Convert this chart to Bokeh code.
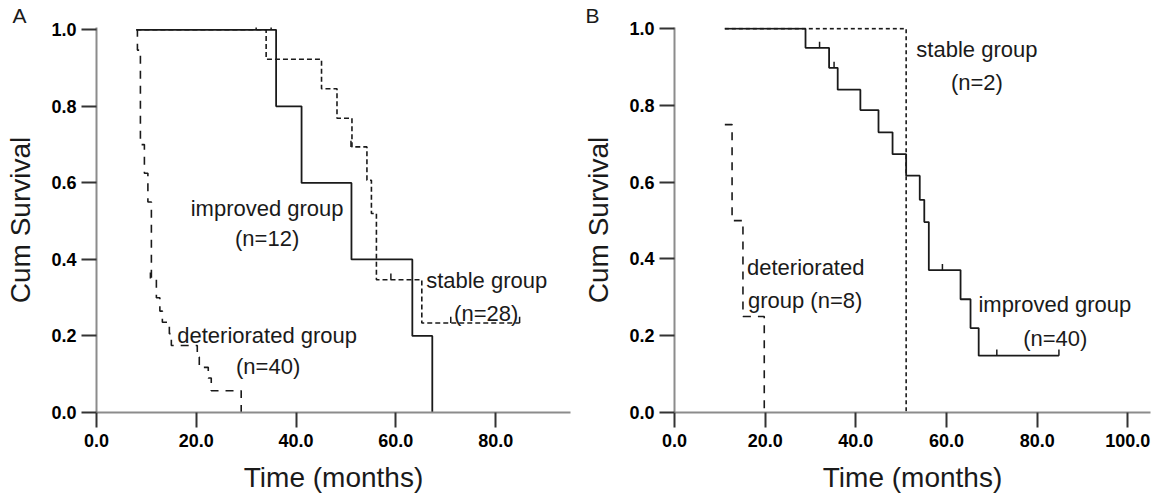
from bokeh.plotting import figure
from bokeh.layouts import row
from bokeh.models import FixedTicker, PrintfTickFormatter, Range1d
from bokeh.core.properties import value
from bokeh.embed import file_html
from bokeh.resources import INLINE

# ---------------- data (panel A) ----------------
a_improved_t = [8.0, 36.0, 41.1, 51.1, 63.3, 67.3]
a_improved_s = [1.0, 0.8, 0.6, 0.4, 0.2, 0.0]
a_improved_cens_t = [32.0, 35.0]
a_improved_cens_s = [1.0, 1.0]

a_stable_t = [8.0, 34.0, 45.1, 48.2, 51.2, 54.2, 55.1, 56.1, 65.2, 84.8]
a_stable_s = [1.0, 0.923, 0.846, 0.769, 0.694, 0.607, 0.52, 0.347, 0.234, 0.234]
a_stable_cens_t = [51.0, 59.0, 71.0, 84.8]
a_stable_cens_s = [0.694, 0.347, 0.234, 0.234]

a_det_t = [8.0, 8.2, 8.8, 9.6, 10.3, 11.0, 12.0, 12.7, 13.2, 14.6, 15.0, 20.2, 20.6, 22.4, 23.0, 29.0]
a_det_s = [1.0, 0.947, 0.70, 0.625, 0.55, 0.35, 0.30, 0.265, 0.236, 0.206, 0.175, 0.145, 0.118, 0.09, 0.057, 0.0]
a_det_cens_t = [10.8]
a_det_cens_s = [0.35]

# ---------------- data (panel B) ----------------
b_improved_t = [11.1, 28.9, 34.1, 36.0, 41.0, 45.0, 48.1, 51.1, 54.1, 55.1, 56.1, 63.1, 65.3, 67.1, 84.8]
b_improved_s = [1.0, 0.95, 0.898, 0.841, 0.788, 0.73, 0.673, 0.617, 0.554, 0.496, 0.371, 0.295, 0.22, 0.148, 0.148]
b_improved_cens_t = [32.0, 35.2, 59.1, 71.1, 84.8]
b_improved_cens_s = [0.95, 0.898, 0.371, 0.148, 0.148]

b_stable_t = [11.1, 51.1]
b_stable_s = [1.0, 0.0]

b_det_t = [11.1, 12.7, 15.1, 19.8]
b_det_s = [0.75, 0.5, 0.25, 0.0]

y_ticks = [0.0, 0.2, 0.4, 0.6, 0.8, 1.0]
a_x_ticks = [0, 20, 40, 60, 80]
b_x_ticks = [0, 20, 40, 60, 80, 100]

FONT = "Liberation Sans"
INK = "#1a1a1a"
AXIS = "#8c8c8c"


def make_panel(width, border_left, border_right, border_bottom, xmax, ymax, xticks,
               letter, letter_offset):
    p = figure(width=width, height=496, output_backend="svg", toolbar_location=None,
               x_range=Range1d(0, xmax), y_range=Range1d(0, ymax),
               min_border_left=border_left, min_border_right=border_right,
               min_border_top=0, min_border_bottom=border_bottom,
               title=letter)
    p.title.align = "left"
    p.title.offset = letter_offset
    p.title.standoff = 2
    p.title.text_font = FONT
    p.title.text_font_style = "normal"
    p.title.text_font_size = "21px"
    p.title.text_color = INK
    p.outline_line_color = None
    p.grid.visible = False
    p.background_fill_color = "white"
    p.border_fill_color = "white"
    for ax in (p.xaxis[0], p.yaxis[0]):
        ax.axis_line_color = AXIS
        ax.axis_line_width = 2
        ax.major_tick_line_color = "#333333"
        ax.major_tick_line_width = 2
        ax.major_tick_out = 15
        ax.major_tick_in = 0
        ax.minor_tick_line_color = None
        ax.major_label_text_font = FONT
        ax.major_label_text_font_style = "bold"
        ax.major_label_text_font_size = "18px"
        ax.major_label_text_color = "black"
        ax.axis_label_text_font = FONT
        ax.axis_label_text_font_style = "normal"
        ax.axis_label_text_font_size = "28px"
        ax.axis_label_text_color = INK
        ax.formatter = PrintfTickFormatter(format="%.1f")
    p.xaxis[0].ticker = FixedTicker(ticks=xticks)
    p.yaxis[0].ticker = FixedTicker(ticks=y_ticks)
    p.xaxis[0].axis_label = "Time (months)"
    p.yaxis[0].axis_label = "Cum Survival"
    p.xaxis[0].major_label_standoff = 6
    p.yaxis[0].major_label_standoff = 5
    p.xaxis[0].axis_label_standoff = 12
    p.yaxis[0].axis_label_standoff = 12
    return p


def censor(p, ts, ss):
    p.segment(x0=ts, y0=ss, x1=ts, y1=[s + 0.016 for s in ss], line_color=INK, line_width=1.5)


def label(p, x, y, txt, align="center", size="22px"):
    p.text(x=[x], y=[y], text=[txt], text_font=value(FONT), text_font_size=size,
           text_align=align, text_baseline="middle", text_color=INK)


# ---------------- panel A ----------------
pa = make_panel(580, 96, 10, 84, 95, 1.006, a_x_ticks, "A", -84)
pa.step(a_det_t, a_det_s, mode="after", line_color=INK, line_width=1.6, line_dash="8 7")
pa.step(a_stable_t, a_stable_s, mode="after", line_color=INK, line_width=1.6, line_dash="5 3")
pa.step(a_improved_t, a_improved_s, mode="after", line_color=INK, line_width=1.8)
censor(pa, a_improved_cens_t, a_improved_cens_s)
censor(pa, a_stable_cens_t, a_stable_cens_s)
censor(pa, a_det_cens_t, a_det_cens_s)
label(pa, 34.2, 0.534, "improved group")
label(pa, 34.2, 0.455, "(n=12)")
label(pa, 78.2, 0.345, "stable group")
label(pa, 78.1, 0.259, "(n=28)")
label(pa, 34.2, 0.201, "deteriorated group")
label(pa, 34.4, 0.12, "(n=40)")

# ---------------- panel B ----------------
pb = make_panel(578, 92, 8, 82, 105, 1.003, b_x_ticks, "B", -89)
pb.step(b_det_t, b_det_s, mode="after", line_color=INK, line_width=1.6, line_dash="8 7")
pb.step(b_stable_t, b_stable_s, mode="after", line_color=INK, line_width=1.6, line_dash="4 3")
pb.step(b_improved_t, b_improved_s, mode="after", line_color=INK, line_width=1.8)
censor(pb, b_improved_cens_t, b_improved_cens_s)
label(pb, 66.7, 0.946, "stable group")
label(pb, 66.7, 0.86, "(n=2)")
label(pb, 16.0, 0.378, "deteriorated", align="left")
label(pb, 16.2, 0.293, "group (n=8)", align="left")
label(pb, 83.9, 0.282, "improved group")
label(pb, 84.0, 0.194, "(n=40)")

layout = row(pa, pb)
open("out.html", "w").write(file_html(layout, INLINE))
